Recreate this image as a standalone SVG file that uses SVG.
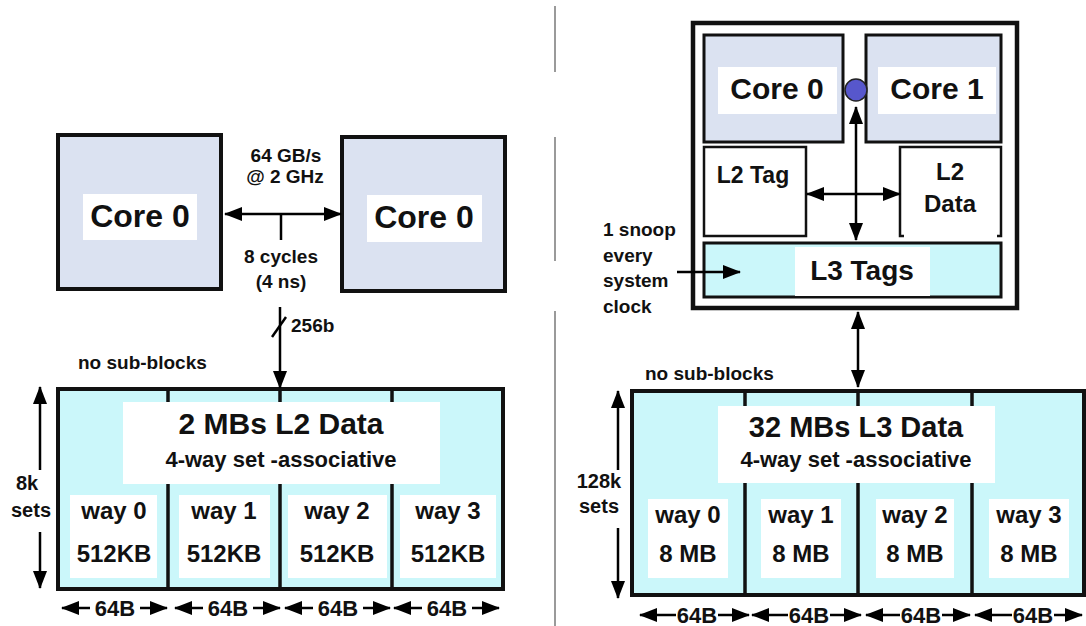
<svg xmlns="http://www.w3.org/2000/svg" width="1086" height="626" viewBox="0 0 1086 626">
<defs>
<marker id="ah" markerUnits="userSpaceOnUse" markerWidth="18" markerHeight="14" refX="17" refY="7" orient="auto-start-reverse">
<path d="M0,0 L18,7 L0,14 z" fill="#000"/>
</marker>
<style>
text{font-family:"Liberation Sans",Arial,sans-serif;font-weight:bold;fill:#111;text-anchor:middle}
.core{fill:#dbe2f1;stroke:#111;stroke-width:4}
.data{fill:#cbf7fa;stroke:#111;stroke-width:4}
.inner{fill:#fff;stroke:#111;stroke-width:2.5}
.lbl{fill:#fff;stroke:none}
.div{stroke:#111;stroke-width:3.5}
.ar{stroke:#000;stroke-width:2.5;fill:none}
.sep{stroke:#9a9a9a;stroke-width:2}
.s19{font-size:19px}
.s24{font-size:24px}
.w{font-size:22px}
.st{text-anchor:start}
</style>
</defs>
<rect width="1086" height="626" fill="#fff"/>

<g id="separator">
<line class="sep" x1="555" y1="6" x2="555" y2="72"/>
<line class="sep" x1="555" y1="137" x2="555" y2="261"/>
<line class="sep" x1="555" y1="311" x2="555" y2="626"/>
</g>

<!-- LEFT -->
<g id="core0-left">
<rect class="core" x="58" y="135" width="163" height="154"/>
<rect class="lbl" x="83" y="194" width="114" height="46"/>
<text x="140" y="227" style="font-size:32px">Core 0</text>
</g>
<g id="core0-right">
<rect class="core" x="342" y="137" width="163" height="154"/>
<rect class="lbl" x="367" y="195" width="115" height="47"/>
<text x="424" y="228" style="font-size:32px">Core 0</text>
</g>
<g id="bus-labels">
<text class="s19" x="286" y="162">64 GB/s</text>
<text class="s19" x="285" y="183">@ 2 GHz</text>
<text class="s19" x="281" y="263">8 cycles</text>
<text class="s19" x="281" y="288">(4 ns)</text>
<text class="s19 st" x="291" y="332">256b</text>
<text class="s19 st" x="78" y="369">no sub-blocks</text>
</g>
<g id="l2-data">
<rect class="data" x="58" y="389" width="445" height="200"/>
<line class="div" x1="168" y1="389" x2="168" y2="589"/>
<line class="div" x1="280" y1="389" x2="280" y2="589"/>
<line class="div" x1="392" y1="389" x2="392" y2="589"/>
<rect class="lbl" x="123" y="402" width="317" height="82"/>
<text x="281" y="434" style="font-size:30px">2 MBs L2 Data</text>
<text x="281" y="467" style="font-size:22px">4-way set -associative</text>
<rect class="lbl" x="70" y="495" width="87" height="83"/>
<rect class="lbl" x="179" y="495" width="91" height="83"/>
<rect class="lbl" x="288" y="495" width="99" height="83"/>
<rect class="lbl" x="400" y="495" width="96" height="83"/>
<text class="s24" x="114" y="519">way 0</text>
<text class="s24" x="224" y="519">way 1</text>
<text class="s24" x="337" y="519">way 2</text>
<text class="s24" x="448" y="519">way 3</text>
<text class="s24" x="114" y="562">512KB</text>
<text class="s24" x="224" y="562">512KB</text>
<text class="s24" x="337" y="562">512KB</text>
<text class="s24" x="448" y="562">512KB</text>
</g>
<g id="l2-sets">
<text x="27" y="490" style="font-size:20px">8k</text>
<text x="31" y="517" style="font-size:20px">sets</text>
</g>
<g id="l2-widths">
<text class="w" x="115" y="616">64B</text>
<text class="w" x="228" y="616">64B</text>
<text class="w" x="338" y="616">64B</text>
<text class="w" x="447" y="616">64B</text>
</g>

<!-- RIGHT -->
<g id="chip">
<rect x="693" y="23" width="324" height="285" fill="#fff" stroke="#111" stroke-width="4.5"/>
</g>
<g id="core0-chip">
<rect class="core" x="704" y="35" width="139" height="107" style="stroke-width:3"/>
<rect class="lbl" x="718" y="67" width="119" height="47"/>
<text x="777" y="99" style="font-size:30px">Core 0</text>
</g>
<g id="core1-chip">
<rect class="core" x="866" y="35" width="135" height="107" style="stroke-width:3"/>
<rect class="lbl" x="878" y="67" width="118" height="47"/>
<text x="937" y="99" style="font-size:30px">Core 1</text>
</g>
<g id="l2-tag">
<rect class="inner" x="704" y="147" width="102" height="89"/>
<text x="753" y="183" style="font-size:23px">L2 Tag</text>
</g>
<g id="l2-data-chip">
<rect x="900" y="147" width="101" height="89" fill="#fff"/>
<path d="M904,236 H900 V147 H1001 V236 H997" fill="none" stroke="#111" stroke-width="2.5"/>
<text x="950" y="180" style="font-size:24px">L2</text>
<text x="950" y="212" style="font-size:24px">Data</text>
</g>
<g id="l3-tags">
<rect class="data" x="704" y="243" width="297" height="54" style="stroke-width:3"/>
<rect class="lbl" x="795" y="247" width="135" height="49"/>
<text x="862" y="280" style="font-size:28px">L3 Tags</text>
</g>
<g id="snoop-node">
<circle cx="856" cy="90" r="11" fill="#5757cc" stroke="#222" stroke-width="1.5"/>
</g>
<g id="snoop-label">
<text class="s19 st" x="603" y="236">1 snoop</text>
<text class="s19 st" x="603" y="262">every</text>
<text class="s19 st" x="603" y="287">system</text>
<text class="s19 st" x="603" y="313">clock</text>
<text class="s19 st" x="645" y="380">no sub-blocks</text>
</g>
<g id="l3-data">
<rect class="data" x="632" y="391" width="452" height="204"/>
<line class="div" x1="745" y1="391" x2="745" y2="595"/>
<line class="div" x1="858" y1="391" x2="858" y2="595"/>
<line class="div" x1="972" y1="391" x2="972" y2="595"/>
<rect class="lbl" x="718" y="406" width="277" height="77"/>
<text x="856" y="437" style="font-size:29px">32 MBs L3 Data</text>
<text x="856" y="467" style="font-size:22px">4-way set -associative</text>
<rect class="lbl" x="648" y="499" width="80" height="79"/>
<rect class="lbl" x="761" y="499" width="80" height="79"/>
<rect class="lbl" x="876" y="499" width="78" height="79"/>
<rect class="lbl" x="989" y="499" width="80" height="79"/>
<text class="s24" x="688" y="523">way 0</text>
<text class="s24" x="801" y="523">way 1</text>
<text class="s24" x="915" y="523">way 2</text>
<text class="s24" x="1029" y="523">way 3</text>
<text class="s24" x="688" y="562">8 MB</text>
<text class="s24" x="801" y="562">8 MB</text>
<text class="s24" x="915" y="562">8 MB</text>
<text class="s24" x="1029" y="562">8 MB</text>
</g>
<g id="l3-sets">
<text x="599" y="488" style="font-size:20px">128k</text>
<text x="599" y="513" style="font-size:20px">sets</text>
</g>
<g id="l3-widths">
<text class="w" x="697" y="623">64B</text>
<text class="w" x="809" y="623">64B</text>
<text class="w" x="921" y="623">64B</text>
<text class="w" x="1033" y="623">64B</text>
</g>

<g id="connectors">
<line class="ar" x1="225" y1="214" x2="341" y2="214" marker-start="url(#ah)" marker-end="url(#ah)"/>
<line class="ar" x1="281" y1="214" x2="281" y2="240"/>
<line class="ar" x1="280" y1="307" x2="280" y2="388" marker-end="url(#ah)"/>
<line class="ar" x1="272" y1="337" x2="286" y2="317"/>
<line class="ar" x1="40" y1="470" x2="40" y2="387" marker-end="url(#ah)"/>
<line class="ar" x1="40" y1="532" x2="40" y2="588" marker-end="url(#ah)"/>
<line class="ar" x1="90" y1="608" x2="62" y2="608" marker-end="url(#ah)"/>
<line class="ar" x1="140" y1="608" x2="167" y2="608" marker-end="url(#ah)"/>
<line class="ar" x1="203" y1="608" x2="175" y2="608" marker-end="url(#ah)"/>
<line class="ar" x1="253" y1="608" x2="280" y2="608" marker-end="url(#ah)"/>
<line class="ar" x1="313" y1="608" x2="285" y2="608" marker-end="url(#ah)"/>
<line class="ar" x1="363" y1="608" x2="390" y2="608" marker-end="url(#ah)"/>
<line class="ar" x1="422" y1="608" x2="394" y2="608" marker-end="url(#ah)"/>
<line class="ar" x1="472" y1="608" x2="499" y2="608" marker-end="url(#ah)"/>

<line class="ar" x1="856" y1="107" x2="856" y2="240" marker-start="url(#ah)" marker-end="url(#ah)"/>
<line class="ar" x1="807" y1="194" x2="900" y2="194" marker-start="url(#ah)" marker-end="url(#ah)"/>
<line class="ar" x1="677" y1="272" x2="740" y2="272" marker-end="url(#ah)"/>
<line class="ar" x1="858" y1="312" x2="858" y2="387" marker-start="url(#ah)" marker-end="url(#ah)"/>
<line class="ar" x1="618" y1="470" x2="618" y2="391" marker-end="url(#ah)"/>
<line class="ar" x1="618" y1="528" x2="618" y2="598" marker-end="url(#ah)"/>
<line class="ar" x1="676" y1="615" x2="640" y2="615" marker-end="url(#ah)"/>
<line class="ar" x1="718" y1="615" x2="749" y2="615" marker-end="url(#ah)"/>
<line class="ar" x1="788" y1="615" x2="752" y2="615" marker-end="url(#ah)"/>
<line class="ar" x1="830" y1="615" x2="861" y2="615" marker-end="url(#ah)"/>
<line class="ar" x1="900" y1="615" x2="866" y2="615" marker-end="url(#ah)"/>
<line class="ar" x1="942" y1="615" x2="970" y2="615" marker-end="url(#ah)"/>
<line class="ar" x1="1012" y1="615" x2="975" y2="615" marker-end="url(#ah)"/>
<line class="ar" x1="1054" y1="615" x2="1082" y2="615" marker-end="url(#ah)"/>
</g>
</svg>
